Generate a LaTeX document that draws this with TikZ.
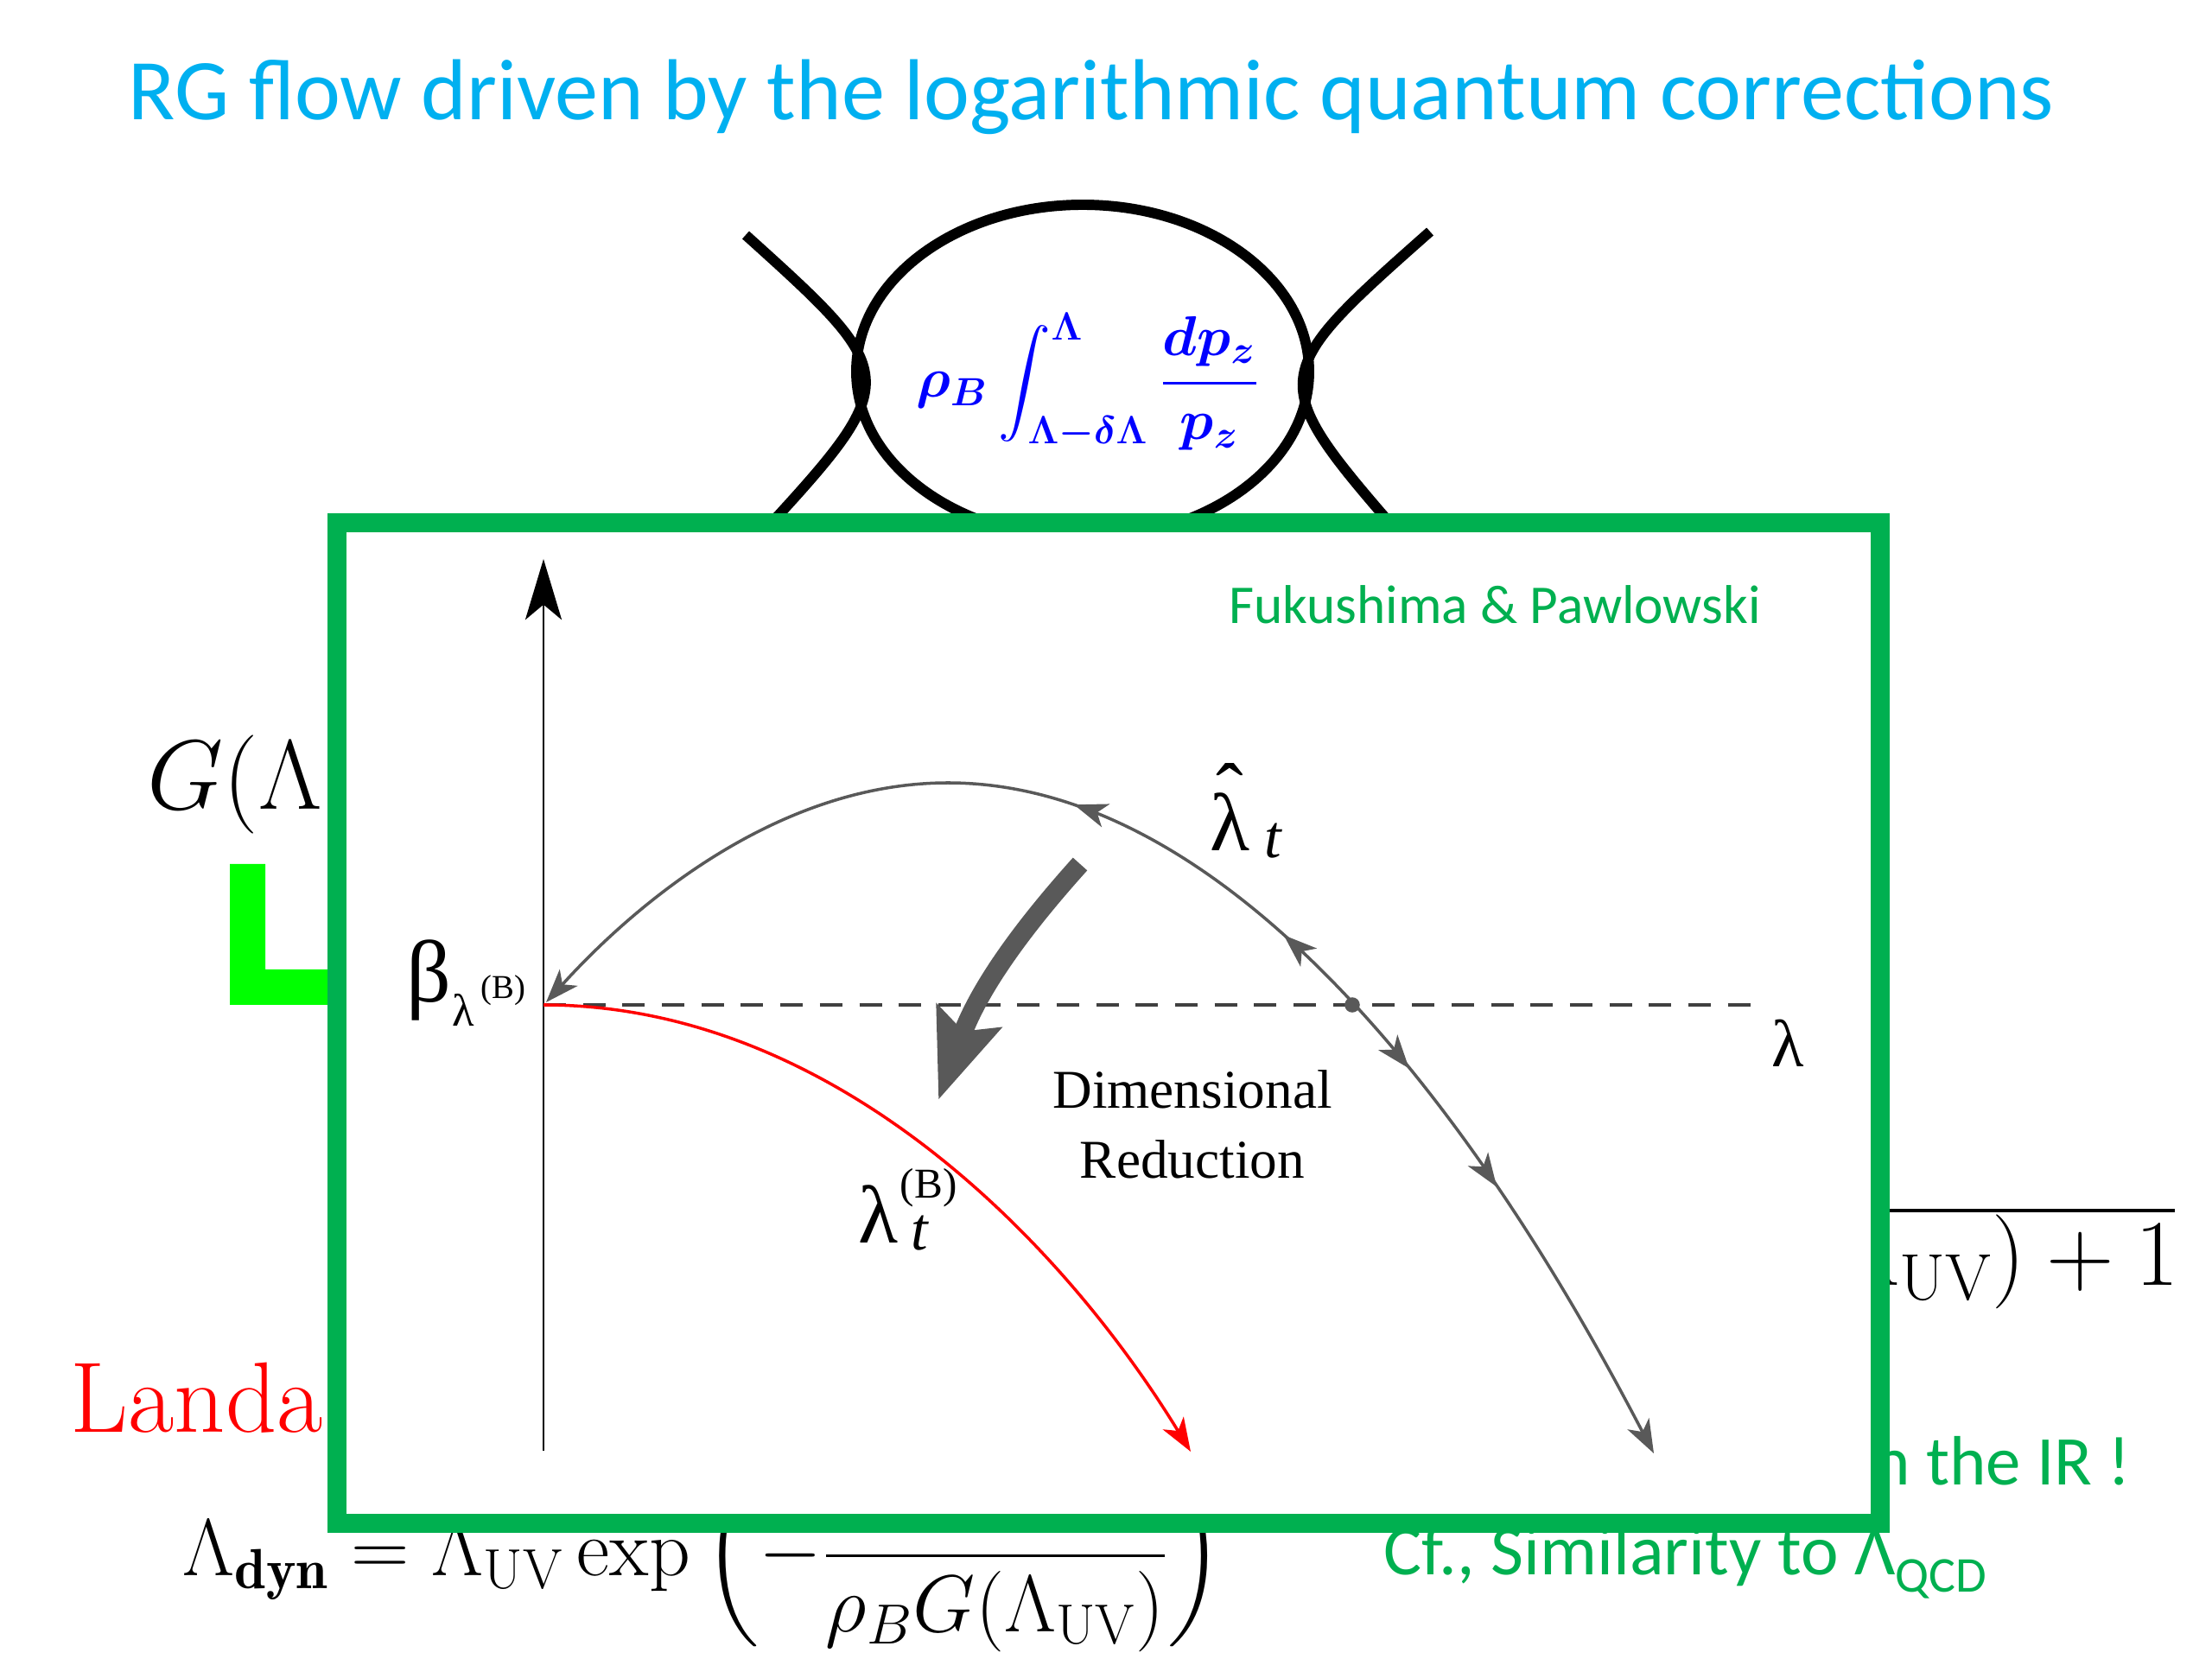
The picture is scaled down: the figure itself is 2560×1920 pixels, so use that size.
\RequirePackage{fix-cm}
\documentclass[tikz,border=0pt]{standalone}
\usepackage{amsmath}
\usepackage{fontspec}
\usetikzlibrary{positioning, arrows.meta, decorations.markings}
\newfontfamily\calfont{Carlito}
\newfontfamily\timesfont{Liberation Serif}
\definecolor{titleblue}{HTML}{00B0F0}
\definecolor{framegreen}{HTML}{00B050}
\definecolor{limegreen}{HTML}{00FF00}
\definecolor{flowgray}{HTML}{595959}
\definecolor{dashgray}{HTML}{404040}
\tikzset{
    flowtip/.tip = {Stealth[length=11pt, width=8pt, inset=3pt]},
    axistip/.tip = {Stealth[length=20pt, width=12pt, inset=5pt]},
    bigtip/.tip  = {Stealth[length=29pt, width=22pt, inset=5pt]}
}
\newcommand{\loopformula}{\ensuremath{\displaystyle \rho_B\int_{\Lambda-\delta\Lambda}^{\Lambda}\frac{dp_z}{p_z}}}
\newcommand{\fsz}[1]{\fontsize{#1}{#1}\selectfont}

\begin{document}
\begin{tikzpicture}[x=0.1mm, y=0.1mm,
        loopline/.style = {line width=3.4pt},
        txt/.style      = {inner sep=0pt, font=\fsz{#1}},
        sans/.style     = {inner sep=0pt, font=\calfont\fsz{#1}},
        serif/.style    = {inner sep=0pt, font=\timesfont\fsz{#1}},
        flow/.style     = {flowgray, line width=1pt}]
        \useasboundingbox (0,0) rectangle (2560,1920);
        % title
        \node (title) [sans=28.5, anchor=base, text=titleblue] at (1263,1781)
            {RG flow driven by the logarithmic quantum corrections};
        % loop
        \draw[loopline] (1253,1490) ellipse [x radius=262, y radius=193];
        \coordinate (lt) at (863,1648);
        \coordinate (lb) at (870,1290);
        \coordinate (rt) at (1655,1652);
        \coordinate (rb) at (1630,1290);
        \draw[loopline] (lt) .. controls (1047,1482) and (1047,1482) .. (lb);
        \draw[loopline] (rt) .. controls (1463,1482) and (1463,1482) .. (rb);
        \node (loopint) [inner sep=0pt, text=blue, font=\mathversion{bold}\fsz{18.5}] at (1259,1478) {\loopformula};
        % slide behind
        \node (gleft) [txt=32.5, anchor=base west] at (170,983) {$G(\Lambda$};
        \node (gright) [txt=31, anchor=base east] at (2522,432) {$\Lambda_{\mathrm{UV}})+1$};
        \draw[line width=1.25pt] (2160,519) -- (2517,519);
        \fill[limegreen] (266,920) -- (307,920) -- (307,798) -- (400,798) -- (400,757) -- (266,757) -- cycle;
        \node (landau) [txt=33, anchor=base west, text=red] at (81,262) {Landa};
        \node (lamdyn) [txt=26.6, anchor=base west] at (211,96)
            {$\displaystyle\Lambda_{\mathbf{dyn}}=\Lambda_{\mathrm{UV}}\exp\left(-\frac{\phantom{1}}{\rho_B G(\Lambda_{\mathrm{UV}})}\right)$};
        \node (irnote) [sans=23, anchor=base east, text=framegreen] at (2467,201) {n the IR !};
        \node (qcdnote) [sans=23.5, anchor=base west, text=framegreen] at (1601,97)
            {Cf., Similarity to Λ\raisebox{-5.5pt}{\fsz{16.5}QCD}};
        % frame
        \draw[line width=6pt, draw=framegreen, fill=white] (390,1315) rectangle (2176,157);
        \node (credit) [sans=18, anchor=base, text=framegreen] at (1730,1198) {Fukushima \& Pawlowski};
        % axes
        \coordinate (origin) at (629,241);
        \coordinate (ytop) at (629,1273);
        \coordinate (b0) at (629,757);
        \coordinate (lamend) at (2041,757);
        \draw[line width=0.6pt, -axistip] (origin) -- (ytop);
        \draw[dashgray, line width=1pt, dash pattern=on 7.4pt off 5.6pt] (b0) -- (lamend);
        \node (lamaxis) [serif=22] at (2069,713) {λ};
        \node (beta) [serif=29, anchor=base west] at (470,760)
            {\rlap{β}\hspace{15pt}\fsz{15}\raisebox{-7.7pt}{\rlap{λ}}\hspace{9.4pt}\raisebox{1.4pt}{\fsz{11}(B)}};
        % flows
        \coordinate (fstart) at (632,760);
        \coordinate (fpeak) at (1097,1014);
        \coordinate (fend) at (1914,238);
        \draw[flow, flowtip-flowtip, postaction={decorate}, decoration={markings,
                mark=at position 0.403 with {\arrowreversed{flowtip}},
                mark=at position 0.570 with {\arrowreversed{flowtip}},
                mark=at position 0.693 with {\arrow{flowtip}},
                mark=at position 0.792 with {\arrow{flowtip}}}]
            (fstart) parabola bend (fpeak) (fend);
        \node (fixpt) [circle, fill=flowgray, inner sep=0pt, minimum size=5pt] at (1565,757) {};
        \coordinate (redend) at (1378,240);
        \draw[red, line width=1pt, -flowtip] (b0) .. controls (960,757) and (1225,490) .. (redend);
        \coordinate (dr0) at (1250,920);
        \coordinate (dr1) at (1086,647);
        \draw[flowgray, line width=6.3pt, -bigtip] (dr0) to[out=228, in=70] (dr1);
        % labels
        \node (lamhat) [serif=27, anchor=base west] at (1400,935)
            {\rlap{\ooalign{λ\cr\hidewidth\raisebox{10pt}{ˆ}\hidewidth\cr}}\hspace{17.9pt}\raisebox{-2pt}{\itshape\fsz{20}t}};
        \node (lamb) [serif=27, anchor=base west] at (993,481)
            {\rlap{λ}\hspace{13.7pt}\rlap{\raisebox{15pt}{\fsz{14}(B)}}\hspace{3.7pt}\raisebox{-2pt}{\itshape\fsz{20}t}};
        \node (dimA) [serif=18, anchor=base] at (1380,637) {Dimensional};
        \node (dimB) [serif=18, anchor=base] at (1380,556) {Reduction};
        %
\end{tikzpicture}
\end{document}
